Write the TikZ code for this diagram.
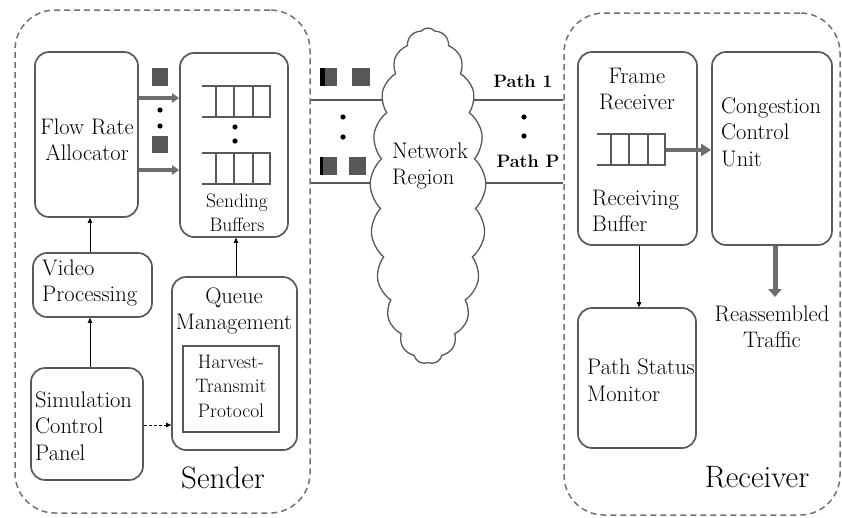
\documentclass[tikz,border=0pt]{standalone}
\usepackage{fontspec}
\usetikzlibrary{shapes.symbols,arrows.meta,calc,backgrounds}
\definecolor{bx}{HTML}{595959}
\definecolor{ar}{HTML}{6E6E6E}
\definecolor{pk}{HTML}{575757}
\newcommand\fA{\fontsize{22.5}{26.5}\selectfont}
\newcommand\fB{\fontsize{19.5}{24.5}\selectfont}
\newcommand\fC{\fontsize{31}{34}\selectfont}
\newcommand\fP{\fontsize{18}{24}\selectfont\bfseries}
\newcommand\queueat[2]{%
  \begin{scope}[shift={(#1,#2)}]
    \draw[qline] (0,0) -- (68,0) -- (68,31) -- (0,31);
    \foreach \d in {14,32,51} \draw[qline] (\d,0) -- (\d,31);
  \end{scope}}
\begin{document}
\begin{tikzpicture}[x=1pt,y=-1pt,
  outer/.style={draw=bx!85, dashed, dash pattern=on 6pt off 4pt, line width=1.5pt, rounded corners=40pt, inner sep=0pt},
  box/.style={draw=bx, line width=1.7pt, rounded corners=14pt, inner sep=0pt},
  sqbox/.style={draw=bx, line width=1.7pt, inner sep=0pt},
  qline/.style={draw=bx, line width=1.1pt},
  tarrow/.style={draw=black, line width=0.9pt, -{Triangle[length=5pt,width=4.5pt]}},
  garrow/.style={draw=ar, line width=4pt, -{Triangle[length=7pt,width=9pt]}},
  txt/.style={inner sep=0pt, font=\fA}
]
\useasboundingbox (0,0) rectangle (842,517);

% outer regions
\node[outer, minimum width=295pt, minimum height=503pt] (sender) at (162.5,261.5) {};
\node[outer, minimum width=276pt, minimum height=502pt] (receiver) at (702,264) {};

% sender boxes
\node[box, minimum width=103pt, minimum height=165pt] (fra) at (86.5,134.5) {};
\node[box, minimum width=108pt, minimum height=184pt] (sb) at (234,145) {};
\node[box, minimum width=119pt, minimum height=64pt] (vp) at (92.5,285) {};
\node[box, minimum width=112pt, minimum height=112pt] (scp) at (87,424) {};
\node[box, minimum width=125pt, minimum height=173pt] (qm) at (234.5,363.5) {};
\node[sqbox, minimum width=96pt, minimum height=86pt] (htp) at (231,389) {};

% receiver boxes
\node[box, minimum width=119pt, minimum height=193pt] (fr) at (637.5,148.5) {};
\node[box, minimum width=120pt, minimum height=193pt] (ccu) at (772,148.5) {};
\node[box, minimum width=118pt, minimum height=140pt] (psm) at (637,378) {};

% texts
\node[txt, align=center] (tfra) at (87,140) {Flow Rate\\Allocator};
\node[txt, align=center, font=\fB] (tsb) at (237,213) {Sending\\Buffers};
\node[txt, align=left, anchor=west] (tvp) at (42,283) {Video\\Processing};
\node[txt, align=left, anchor=west] (tscp) at (35,426) {Simulation\\Control\\Panel};
\node[txt, align=center] (tqm) at (234,311) {Queue\\Management};
\node[txt, align=center, font=\fB] (thtp) at (231,386) {Harvest-\\Transmit\\Protocol};
\node[txt, font=\fC] (tsender) at (223,478) {Sender};
\node[txt, font=\fC] (treceiver) at (757,477) {Receiver};
\node[txt, align=center] (tfr) at (637,89) {Frame\\Receiver};
\node[txt, align=left, anchor=west] (trb) at (592,211) {Receiving\\Buffer};
\node[txt, align=left, anchor=west] (tccu) at (721,132) {Congestion\\Control\\Unit};
\node[txt, align=left, anchor=west] (tpsm) at (587,380) {Path Status\\Monitor};
\node[txt, align=center] (trt) at (772,327) {Reassembled\\Traffic};

% queues
\queueat{202}{86}
\queueat{202}{153}
\queueat{597}{134}
\fill (235,127) circle (2.6pt);
\fill (235,141) circle (2.6pt);

% packets between allocator and buffers
\fill[pk] (152,68) rectangle (168,86);
\fill[pk] (152,136) rectangle (168,153);
\fill (160,110) circle (2.6pt);
\fill (160,126) circle (2.6pt);

% cloud
\node[cloud, draw=bx, fill=white, line width=1.3pt, cloud puffs=21, cloud puff arc=95, aspect=0.34,
      minimum width=116pt, minimum height=336pt, inner sep=0pt] (net) at (428,196) {};
\node[txt, align=left, anchor=west] (tnet) at (392,166) {Network\\Region};

% path lines (behind cloud)
\coordinate (y1) at (0,100);
\coordinate (y2) at (0,183);
\begin{scope}[on background layer]
  \draw[draw=bx, line width=1.6pt] (sender.east |- y1) -- (net.center |- y1);
  \draw[draw=bx, line width=1.6pt] (sender.east |- y2) -- (net.center |- y2);
  \draw[draw=bx, line width=1.6pt] (net.center |- y1) -- (receiver.west |- y1);
  \draw[draw=bx, line width=1.6pt] (net.center |- y2) -- (receiver.west |- y2);
\end{scope}

% packets on paths
\fill[pk] (320,68) rectangle (337,86); \fill[black] (320,68) rectangle (324.5,86);
\fill[pk] (352,68) rectangle (370,86);
\fill[pk] (320,157) rectangle (337,175); \fill[black] (320,157) rectangle (322.5,175);
\fill[pk] (349,157) rectangle (366,175);
\fill (343,117) circle (2.6pt);
\fill (343,137) circle (2.6pt);

% path labels
\node[txt, font=\fP] (tp1) at (523,81) {Path 1};
\node[txt, font=\fP] (tpp) at (528,161) {Path P};
\fill (524,117) circle (2.6pt);
\fill (524,136) circle (2.6pt);

% connectors
\coordinate (x90) at (90,0);
\coordinate (x236) at (236,0);
\coordinate (x639) at (639,0);
\coordinate (x775) at (775,0);
\coordinate (y425) at (0,425);
\coordinate (y98) at (0,98);
\coordinate (y170) at (0,170);
\coordinate (y150) at (0,150);
\coordinate (rtend) at (775,297);
\coordinate (qend) at (666,150);

\draw[tarrow] (vp.north -| x90) -- (fra.south -| x90);
\draw[tarrow] (scp.north -| x90) -- (vp.south -| x90);
\draw[tarrow, dashed, dash pattern=on 3pt off 2pt] (scp.east |- y425) -- (qm.west |- y425);
\draw[tarrow] (qm.north -| x236) -- (sb.south -| x236);
\draw[tarrow] (fr.south -| x639) -- (psm.north -| x639);
\draw[garrow] (fra.east |- y98) -- (sb.west |- y98);
\draw[garrow] (fra.east |- y170) -- (sb.west |- y170);
\draw[garrow, line width=3.5pt, -{Triangle[length=10pt,width=12pt]}] (qend) -- (ccu.west |- y150);
\draw[garrow, line width=5pt, -{Triangle[length=8pt,width=13pt]}] (ccu.south -| x775) -- (rtend);
\end{tikzpicture}
\end{document}
